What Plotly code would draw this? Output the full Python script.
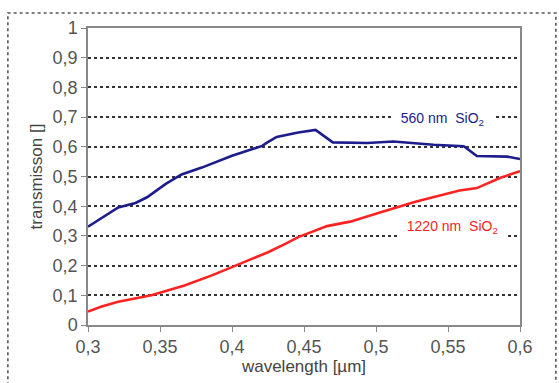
import plotly.graph_objects as go

# wavelength [µm]
wl_blue = [0.300, 0.321, 0.333, 0.341, 0.354, 0.365, 0.379, 0.400, 0.421, 0.424, 0.431, 0.446, 0.458,
           0.470, 0.494, 0.512, 0.540, 0.561, 0.570, 0.579, 0.591, 0.600]
t_blue = [0.331, 0.396, 0.411, 0.430, 0.475, 0.507, 0.530, 0.570, 0.603, 0.613, 0.633, 0.648, 0.657,
          0.615, 0.613, 0.618, 0.607, 0.602, 0.569, 0.569, 0.567, 0.559]

wl_red = [0.300, 0.3095, 0.321, 0.344, 0.367, 0.386, 0.400, 0.414, 0.425, 0.437, 0.446, 0.466, 0.482,
          0.505, 0.528, 0.558, 0.570, 0.586, 0.600]
t_red = [0.045, 0.062, 0.078, 0.100, 0.133, 0.167, 0.195, 0.223, 0.245, 0.273, 0.296, 0.333, 0.348,
         0.382, 0.416, 0.453, 0.461, 0.495, 0.518]

x_ticks = [0.3, 0.35, 0.4, 0.45, 0.5, 0.55, 0.6]
x_labels = ["0,3", "0,35", "0,4", "0,45", "0,5", "0,55", "0,6"]
y_ticks = [0, 0.1, 0.2, 0.3, 0.4, 0.5, 0.6, 0.7, 0.8, 0.9, 1]
y_labels = ["0", "0,1", "0,2", "0,3", "0,4", "0,5", "0,6", "0,7", "0,8", "0,9", "1"]

blue = "#1c1c8c"
red = "#ff2222"
font = "Liberation Sans, Arial, sans-serif"

fig = go.Figure()
fig.add_trace(go.Scatter(x=wl_blue, y=t_blue, mode="lines", line=dict(color=blue, width=2.6),
                         showlegend=False, hoverinfo="skip"))
fig.add_trace(go.Scatter(x=wl_red, y=t_red, mode="lines", line=dict(color=red, width=2.6),
                         showlegend=False, hoverinfo="skip"))

fig.add_annotation(x=0.5465, y=0.693, xref="x", yref="y",
                   text="\u00a0\u00a0560 nm\u00a0\u00a0SiO<sub>2</sub>\u00a0\u00a0",
                   showarrow=False, font=dict(family=font, size=14, color=blue),
                   bgcolor="white", borderpad=1)
fig.add_annotation(x=0.5528, y=0.330, xref="x", yref="y",
                   text="\u00a0\u00a01220 nm\u00a0\u00a0SiO<sub>2</sub>\u00a0\u00a0",
                   showarrow=False, font=dict(family=font, size=14, color=red),
                   bgcolor="white", borderpad=1)

# outer dotted frame
fig.add_shape(type="rect", xref="paper", yref="paper", x0=-0.1855, x1=1.083, y0=-0.4, y1=1.0505,
              line=dict(color="#555555", width=1.6, dash="dot"), layer="below")

fig.update_layout(
    width=559, height=383,
    margin=dict(l=88, r=39, t=28, b=58, autoexpand=False),
    paper_bgcolor="white", plot_bgcolor="white",
    font=dict(family=font, color="#555555"),
    xaxis=dict(range=[0.3, 0.6], tickvals=x_ticks, ticktext=x_labels,
               showgrid=False, zeroline=False, automargin=False,
               showline=True, linecolor="#888888", linewidth=1.5, mirror=True,
               ticks="outside", ticklen=5, tickcolor="#888888",
               tickfont=dict(size=18, color="#555555"),
               title=dict(text="wavelength [µm]", font=dict(size=17, color="#444444"), standoff=2)),
    yaxis=dict(range=[0, 1], tickvals=y_ticks, ticktext=y_labels,
               showgrid=True, gridcolor="#333333", gridwidth=2, griddash="dot", zeroline=False,
               automargin=False,
               showline=True, linecolor="#888888", linewidth=1.5, mirror=True,
               ticks="outside", ticklen=5, tickcolor="#888888",
               tickfont=dict(size=18, color="#555555"),
               title=dict(text="transmisson []", font=dict(size=17, color="#444444"), standoff=6)),
)

fig.write_html("out.html", config={"displayModeBar": False},
               post_script="document.body.style.margin='0';")
